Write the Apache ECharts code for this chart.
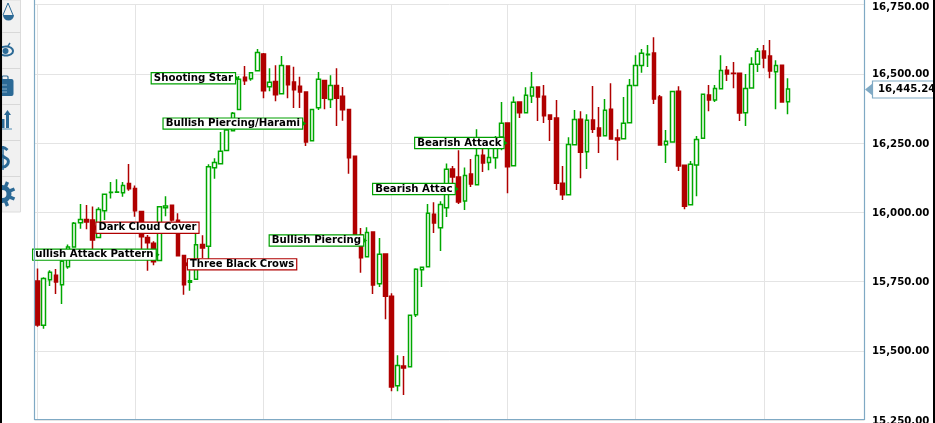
<!DOCTYPE html>
<html>
<head>
<meta charset="utf-8">
<style>html,body{margin:0;padding:0;background:#fff;overflow:hidden}#c{width:935px;height:423px}</style>
<script src="https://cdn.jsdelivr.net/npm/echarts@6/dist/echarts.min.js"></script>
</head>
<body>
<div id="c"></div>
<script>
const opens = [15752,15592,15756,15773,15738,15803,15875,15962,15974,15972,15909,16005,16071,16072,16070,16104,16086,16003,15909,15888,15826,16016,16025,15971,15844,15747,15758,15884,15877,16161,16175,16223,16294,16371,16487,16482,16511,16571,16453,16472,16428,16528,16470,16455,16434,16258,16377,16476,16407,16458,16419,16371,16202,15918,15839,15929,15742,15849,15697,15374,15445,15442,15630,15792,15803,15993,15944,16016,16156,16127,16041,16138,16099,16206,16180,16197,16272,16322,16168,16398,16359,16420,16452,16419,16351,16340,16105,16063,16244,16336,16218,16333,16304,16276,16372,16268,16265,16323,16458,16530,16569,16575,16416,16244,16254,16437,16170,16027,16171,16267,16423,16405,16446,16513,16502,16502,16359,16449,16534,16582,16564,16507,16531,16399];
const closes = [15593,15761,15783,15748,15823,15875,15960,15974,15965,15900,16010,16065,16072,16073,16097,16085,16005,15912,15890,15821,16020,16023,15972,15843,15738,15753,15883,15871,16164,16180,16220,16297,16357,16480,16475,16504,16577,16439,16469,16424,16530,16460,16442,16434,16254,16371,16480,16412,16458,16412,16370,16197,15918,15836,15927,15737,15848,15697,15369,15447,15438,15628,15794,15801,15996,15961,16028,16155,16127,16037,16133,16102,16205,16178,16198,16268,16321,16164,16397,16359,16422,16451,16416,16348,16336,16105,16063,16245,16335,16217,16332,16300,16275,16368,16264,16261,16321,16458,16530,16574,16570,16409,16243,16256,16436,16167,16022,16173,16263,16426,16405,16447,16512,16499,16501,16358,16447,16534,16581,16557,16510,16530,16398,16445.24];
const lows = [15587,15579,15734,15705,15669,15796,15874,15940,15939,15863,15907,15972,16050,16070,16056,16078,15984,15867,15789,15809,15824,15986,15967,15842,15702,15717,15755,15835,15830,16121,16174,16221,16293,16370,16459,16475,16510,16412,16437,16401,16427,16412,16376,16376,16239,16257,16369,16372,16376,16311,16330,16139,15915,15782,15838,15705,15730,15614,15354,15354,15340,15441,15622,15730,15802,15925,15860,15983,16105,16030,16008,16091,16098,16145,16152,16157,16224,16069,16167,16340,16358,16394,16329,16322,16257,16080,16044,16062,16243,16123,16156,16286,16214,16275,16263,16188,16264,16322,16457,16504,16524,16391,16242,16178,16253,16149,16011,16026,16058,16266,16365,16398,16445,16474,16448,16329,16311,16448,16506,16520,16484,16372,16397,16354];
const highs = [15797,15765,15791,15795,15827,15884,15965,16030,16026,16021,16018,16068,16109,16119,16109,16174,16097,16004,15918,15895,16022,16058,16028,15996,15845,15791,15926,15917,16173,16195,16290,16304,16362,16492,16528,16506,16589,16575,16520,16531,16564,16529,16525,16489,16435,16372,16506,16477,16495,16520,16452,16372,16205,15943,15946,15930,15907,15850,15708,15484,15481,15631,15798,15802,16030,16036,16040,16176,16167,16224,16162,16192,16300,16232,16232,16275,16398,16323,16418,16399,16451,16506,16453,16459,16352,16405,16167,16271,16369,16365,16354,16456,16380,16409,16466,16300,16416,16481,16567,16589,16604,16632,16423,16297,16437,16455,16171,16185,16275,16427,16459,16459,16567,16528,16542,16503,16499,16560,16593,16604,16622,16549,16532,16484];
const slotCount = 136;
const gridLineSlots = [0,16,37,58,77,98,119];
const yTicks = {min:15250, max:16750, step:250};
const lastPrice = 16445.24;

const patternNames = ['ullish Attack Pattern','Dark Cloud Cover','Three Black Crows','Shooting Star','Bullish Piercing/Harami','Bullish Piercing','Bearish Attac','Bearish Attack'];
const patternSlots = [20,9,24,33,44,54,69,77];
const patternPrices = [15847,15944,15812,16484,16320,15898,16084,16250];
const patternBullish = [true,false,false,true,true,true,true,true];

const GREEN='#00a800', RED='#b00000', BOXG='#00a000', FRAME='#7fa9c4', GRID='#e4e4e4', ICON='#2c6a96';
const categories = Array.from({length:slotCount},(_,i)=>String(i));
const candles = opens.map((o,i)=>[o,closes[i],lows[i],highs[i]]);
const labelFont = {fontFamily:'DejaVu Sans',fontWeight:'bold',fontSize:10.2,color:'#000'};
const fmt = v=>v.toLocaleString('en-US',{minimumFractionDigits:2});

const chart = echarts.init(document.getElementById('c'),null,{renderer:'canvas'});

function gear(){
  const els=[{type:'ring',z:20,silent:true,shape:{cx:2.5,cy:194,r:9,r0:4},style:{fill:ICON}}];
  for(let k=0;k<8;k++){
    const a=k*Math.PI/4+Math.PI/8;
    els.push({type:'line',z:20,silent:true,shape:{x1:2.5+8*Math.cos(a),y1:194+8*Math.sin(a),x2:2.5+13*Math.cos(a),y2:194+13*Math.sin(a)},style:{stroke:ICON,lineWidth:3.4}});
  }
  return els;
}

function chrome(){
  const e=[];
  e.push({type:'rect',z:15,silent:true,shape:{x:2,y:0,width:18.5,height:212},style:{fill:'#f1f1f1',stroke:'#dcdcdc',lineWidth:1}});
  [32,68,104,140,176].forEach(y=>e.push({type:'line',z:16,silent:true,shape:{x1:2,y1:y+.5,x2:20.5,y2:y+.5},style:{stroke:'#d8d8d8',lineWidth:1}}));
  e.push({type:'polyline',z:20,silent:true,shape:{points:[[3,15],[8,3],[13,15]]},style:{stroke:ICON,fill:'none',lineWidth:1}});
  e.push({type:'sector',z:20,silent:true,shape:{cx:8.5,cy:15,r:5.5,r0:0,startAngle:0,endAngle:Math.PI},style:{fill:ICON}});
  e.push({type:'ellipse',z:20,silent:true,shape:{cx:6,cy:51,rx:8,ry:5.5},style:{fill:ICON}});
  e.push({type:'ellipse',z:20,silent:true,shape:{cx:6,cy:51,rx:6,ry:3.6},style:{fill:'#f1f1f1'}});
  e.push({type:'circle',z:21,silent:true,shape:{cx:5.5,cy:51,r:3},style:{fill:ICON}});
  e.push({type:'line',z:20,silent:true,shape:{x1:8,y1:46,x2:10,y2:43},style:{stroke:ICON,lineWidth:1.4}});
  e.push({type:'rect',z:20,silent:true,shape:{x:-2,y:79,width:15.5,height:17,r:2},style:{fill:ICON}});
  e.push({type:'rect',z:20,silent:true,shape:{x:2,y:76,width:6,height:5,r:1},style:{fill:'none',stroke:ICON,lineWidth:1.2}});
  [85,89,92].forEach(y=>e.push({type:'line',z:21,silent:true,shape:{x1:2,y1:y,x2:7,y2:y},style:{stroke:'#9fc0d8',lineWidth:.8}}));
  e.push({type:'polygon',z:20,silent:true,shape:{points:[[7.5,110],[11,115],[9,115],[9,128],[6,128],[6,115],[4,115]]},style:{fill:ICON}});
  e.push({type:'rect',z:20,silent:true,shape:{x:0,y:119,width:4.5,height:9},style:{fill:ICON}});
  e.push({type:'line',z:20,silent:true,shape:{x1:0,y1:129,x2:12,y2:129},style:{stroke:'#7fa9c4',lineWidth:1.4}});
  e.push({type:'polyline',z:20,silent:true,shape:{points:[[7.5,150],[3,147.5],[-1,150],[0,154],[4,157],[8,160],[7,165],[2,167],[-2,164]],smooth:.4},style:{stroke:ICON,fill:'none',lineWidth:3}});
  e.push({type:'line',z:20,silent:true,shape:{x1:3,y1:146,x2:3,y2:170},style:{stroke:ICON,lineWidth:1.5}});
  e.push(...gear());
  [[34.5,0,34.5,420],[864.5,0,864.5,420],[34.5,419.5,864.5,419.5]].forEach(p=>e.push({type:'line',z:12,silent:true,shape:{x1:p[0],y1:p[1],x2:p[2],y2:p[3]},style:{stroke:FRAME,lineWidth:1.2}}));
  const y=Math.round(chart.convertToPixel({yAxisIndex:0},lastPrice))+.5;
  e.push({type:'rect',z:13,silent:true,shape:{x:872.5,y:y-8.5,width:70,height:17},style:{fill:'#fff',stroke:FRAME,lineWidth:1.2}});
  e.push({type:'polygon',z:13,silent:true,shape:{points:[[865,y],[872.5,y-6],[872.5,y+6]]},style:{fill:FRAME}});
  e.push({type:'text',z:14,silent:true,x:878,y:y,style:{text:fmt(lastPrice),fill:'#000',font:'bold 10.2px "DejaVu Sans"',textVerticalAlign:'middle'}});
  e.push({type:'rect',z:30,silent:true,shape:{x:0,y:0,width:2,height:423},style:{fill:'#000'}});
  e.push({type:'rect',z:30,silent:true,shape:{x:933,y:0,width:2,height:423},style:{fill:'#000'}});
  return e;
}

chart.setOption({
  animation:false,
  backgroundColor:'#fff',
  grid:{left:34.5,right:70.5,top:4.5,bottom:3,outerBoundsMode:'none'},
  xAxis:{type:'category',data:categories,boundaryGap:true,show:false},
  yAxis:{type:'value',position:'right',min:yTicks.min,max:yTicks.max,interval:yTicks.step,
    axisLine:{show:false},axisTick:{show:false},
    splitLine:{show:true,lineStyle:{color:GRID,width:1}},
    axisLabel:{margin:7.5,...labelFont,padding:[2,0,0,0],
      rich:{top:{...labelFont,padding:[3,0,0,0]}},
      formatter:v=>v===yTicks.max?'{top|'+fmt(v)+'}':fmt(v)}},
  series:[{
    type:'candlestick',z:3,data:candles,barWidth:4,
    itemStyle:{color:'#fff',color0:RED,borderColor:GREEN,borderColor0:RED,borderWidth:1.5},
    markLine:{silent:true,z:1,symbol:'none',label:{show:false},animation:false,
      lineStyle:{type:'solid',color:GRID,width:1},
      data:gridLineSlots.map(s=>({xAxis:s}))},
    markPoint:{silent:true,z:8,animation:false,
      data:patternNames.map((n,i)=>({
        name:n,coord:[patternSlots[i],patternPrices[i]],
        symbol:patternBullish[i]?'path://M0,0 L10,6 L0,12 Z':'path://M10,0 L0,6 L10,12 Z',
        symbolSize:[4,6],symbolOffset:[patternBullish[i]?-2:2,0],
        itemStyle:{color:patternBullish[i]?BOXG:RED},
        label:{show:true,formatter:n,position:patternBullish[i]?'left':'right',distance:0,
          ...labelFont,fontSize:patternBullish[i]?10.2:10,lineHeight:9,padding:[1,2,0,2],backgroundColor:'#fff',
          borderColor:patternBullish[i]?BOXG:RED,borderWidth:1.2}
      }))}
  }]
});
chart.setOption({graphic:{elements:chrome()}});
</script>
</body>
</html>
